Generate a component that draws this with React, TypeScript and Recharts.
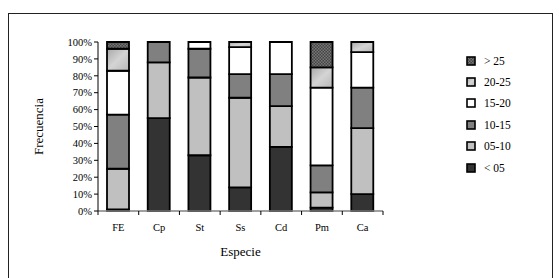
import React from "react";
import { BarChart, Bar, XAxis, YAxis, Legend } from "recharts";

const categories = ["FE", "Cp", "St", "Ss", "Cd", "Pm", "Ca"];
const lt05 = [1, 55, 33, 14, 38, 2, 10];
const s05_10 = [24, 33, 46, 53, 24, 9, 39];
const s10_15 = [32, 12, 17, 14, 19, 16, 24];
const s15_20 = [26, 0, 4, 16, 19, 46, 21];
const s20_25 = [13, 0, 0, 3, 0, 12, 6];
const gt25 = [4, 0, 0, 0, 0, 15, 0];
const yTicks = [0, 0.1, 0.2, 0.3, 0.4, 0.5, 0.6, 0.7, 0.8, 0.9, 1];

const seriesKeys = ["lt05", "s05_10", "s10_15", "s15_20", "s20_25", "gt25"];
const seriesNames = ["< 05", "05-10", "10-15", "15-20", "20-25", "> 25"];
const seriesFills = ["#333333", "#c0c0c0", "#808080", "#ffffff", "url(#grad2025)", "url(#hatch25)"];

const data = categories.map((c, i) => ({
  name: c,
  lt05: lt05[i],
  s05_10: s05_10[i],
  s10_15: s10_15[i],
  s15_20: s15_20[i],
  s20_25: s20_25[i],
  gt25: gt25[i],
}));

const FONT = "'Liberation Serif', 'Times New Roman', serif";

const XTick = (props: any) => {
  const { x, y, payload, width, visibleTicksCount, index } = props;
  const half = width / visibleTicksCount / 2;
  return (
    <g>
      <line x1={x - half} x2={x - half} y1={y} y2={y + 4} stroke="#000" strokeWidth={1} />
      {index === visibleTicksCount - 1 && (
        <line x1={x + half} x2={x + half} y1={y} y2={y + 4} stroke="#000" strokeWidth={1} />
      )}
      <text x={x} y={y + 20} textAnchor="middle" fontFamily={FONT} fontSize={10.5} fill="#000">
        {payload.value}
      </text>
    </g>
  );
};

const LegendContent = () => {
  const idx = [5, 4, 3, 2, 1, 0];
  return (
    <div style={{ fontFamily: FONT, fontSize: 11.5, color: "#000" }}>
      {idx.map((i) => (
        <div key={i} style={{ display: "flex", alignItems: "center", height: 21.4 }}>
          <svg width={10} height={10} style={{ marginRight: 8 }}>
            <rect x={1} y={1} width={8} height={8} fill={seriesFills[i]} stroke="#000" strokeWidth={1.6} />
          </svg>
          <span>{seriesNames[i]}</span>
        </div>
      ))}
    </div>
  );
};

export default function App() {
  return (
    <div style={{ position: "absolute", left: 0, top: 0, width: 560, height: 278, background: "#fff", overflow: "hidden" }}>
      <div
        style={{
          position: "absolute",
          left: 8,
          top: 13,
          width: 543,
          height: 270,
          borderLeft: "1px solid #222",
          borderTop: "1px solid #222",
          borderRight: "1px solid #222",
        }}
      />
      <div style={{ position: "absolute", left: 0, top: 0 }}>
        <BarChart
          width={560}
          height={278}
          data={data}
          stackOffset="expand"
          margin={{ top: 42, right: 97, bottom: 37, left: 38 }}
        >
          <defs>
            <linearGradient id="grad2025" x1="0" y1="0" x2="1" y2="1">
              <stop offset="0%" stopColor="#a8a8a8" />
              <stop offset="50%" stopColor="#d4d4d4" />
              <stop offset="100%" stopColor="#b8b8b8" />
            </linearGradient>
            <pattern id="hatch25" width="3" height="3" patternUnits="userSpaceOnUse">
              <rect width="3" height="3" fill="#444" />
              <rect width="1.5" height="1.5" fill="#777" />
              <rect x="1.5" y="1.5" width="1.5" height="1.5" fill="#777" />
            </pattern>
          </defs>
          <XAxis
            dataKey="name"
            height={30}
            tickSize={0}
            tickMargin={0}
            tickLine={false}
            axisLine={{ stroke: "#808080", strokeWidth: 1.5 }}
            tick={<XTick />}
            interval={0}
            label={{ value: "Especie", position: "insideBottom", offset: -15, fontFamily: FONT, fontSize: 13, fill: "#000" }}
          />
          <YAxis
            width={60}
            domain={[0, 1]}
            ticks={yTicks}
            interval={0}
            tickFormatter={(v: number) => `${Math.round(v * 100)}%`}
            tickSize={4}
            tickMargin={2}
            axisLine={{ stroke: "#000", strokeWidth: 1 }}
            tickLine={{ stroke: "#000" }}
            tick={{ fontFamily: FONT, fontSize: 10.5, fill: "#000" }}
            label={(p: any) => {
              const vb = p.viewBox;
              const cx = vb.x;
              const cy = vb.y + vb.height / 2;
              return (
                <text
                  x={cx}
                  y={cy}
                  transform={`rotate(-90 ${cx} ${cy})`}
                  textAnchor="middle"
                  dominantBaseline="central"
                  fontFamily={FONT}
                  fontSize={13}
                  fill="#000"
                >
                  Frecuencia
                </text>
              );
            }}
          />
          <Legend
            content={<LegendContent />}
            layout="vertical"
            verticalAlign="top"
            align="right"
            wrapperStyle={{ position: "absolute", left: 466, top: 50, width: 80 }}
          />
          {seriesKeys.map((k, i) => (
            <Bar
              key={k}
              dataKey={k}
              name={seriesNames[i]}
              stackId="a"
              fill={seriesFills[i]}
              stroke="#000"
              strokeWidth={1.8}
              barSize={22}
              isAnimationActive={false}
            />
          ))}
        </BarChart>
      </div>
    </div>
  );
}
